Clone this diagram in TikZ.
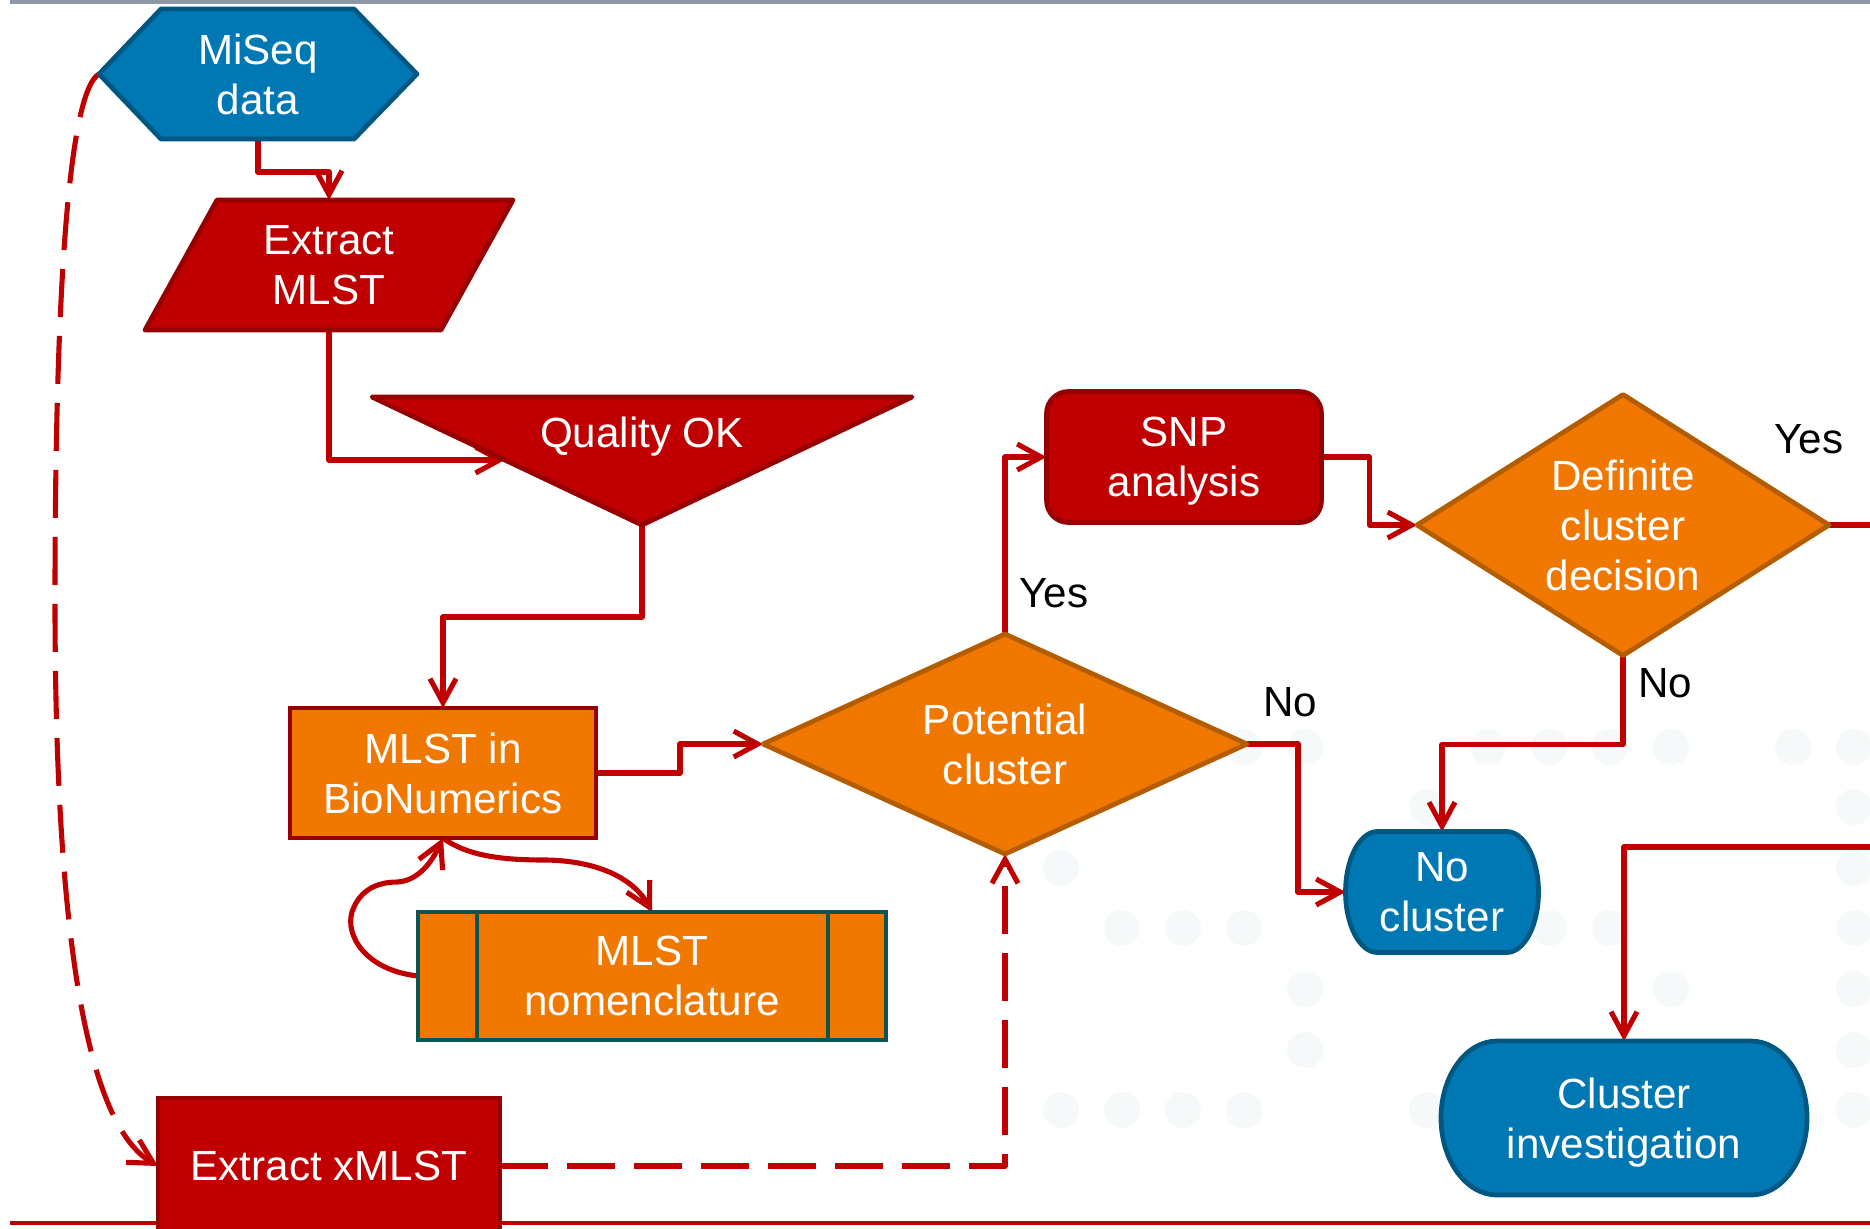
\documentclass[tikz,border=0pt]{standalone}
\usepackage{fontspec}
\setmainfont{Liberation Sans}
\usetikzlibrary{arrows.meta,calc}
\definecolor{cred}{HTML}{C00000}
\definecolor{cdred}{HTML}{960000}
\definecolor{corange}{HTML}{F07800}
\definecolor{cbrown}{HTML}{B35C00}
\definecolor{cblue}{HTML}{0078B4}
\definecolor{cdblue}{HTML}{005882}
\definecolor{cteal}{HTML}{0B5450}
\definecolor{cgray}{HTML}{8E98A4}
\definecolor{cdot}{HTML}{F5F9FA}
\pgfdeclarelayer{bg}
\pgfdeclarelayer{conn}
\pgfdeclarelayer{shp}
\pgfsetlayers{bg,conn,shp,main}
\begin{document}
\begin{tikzpicture}[x=0.1mm, y=-0.1mm,
  every node/.style={font=\fontsize{12}{14.23}\selectfont, align=center, inner sep=0pt, outer sep=0pt, text depth=0pt},
  ghost/.style={text=white},
  lbl/.style={text=black},
  redbox/.style={fill=cred, draw=cdred, line width=1.35pt, text=white},
  orangebox/.style={fill=corange, draw=cdred, line width=1.35pt, text=white},
  redshape/.style={fill=cred, draw=cdred, line width=1.35pt, line join=round},
  orshape/.style={fill=corange, draw=cbrown, line width=1.35pt, line join=round},
  blshape/.style={fill=cblue, draw=cdblue, line width=1.35pt, line join=round},
  conn/.style={draw=cred, line width=1.45pt, line join=round},
  arr/.style={-{Straight Barb[length=2.4mm,width=2.6mm]}},
  dsh/.style={dash pattern=on 4.8mm off 1.9mm}
]
\useasboundingbox (0,0) rectangle (1870,1228);

% ---- nodes
\node[ghost, minimum width=31.8mm, minimum height=13mm] (miseq) at (258,74) {MiSeq\\data};
\node[ghost, minimum width=36.8mm, minimum height=13mm] (extract) at (329,265) {Extract\\MLST};
\node[minimum width=54mm, minimum height=12.8mm] (qok) at (642,461) {};
\node[ghost, anchor=base] (qoktxt) at (642,447) {Quality OK};
\node[orangebox, minimum width=30.6mm, minimum height=13mm] (bio) at (443,773) {MLST in\\BioNumerics};
\node[ghost, minimum width=48.4mm, minimum height=22mm] (pot) at (1005,744) {Potential\\cluster};
\node[redbox, rounded corners=2.2mm, minimum width=27.5mm, minimum height=13.1mm] (snp) at (1184,457) {SNP\\analysis};
\node[ghost, minimum width=41.2mm, minimum height=26.1mm] (def) at (1623,525) {Definite\\cluster\\decision};
\node[ghost, minimum width=19.3mm, minimum height=12.1mm] (nocl) at (1442,892) {No\\cluster};
\node[ghost, minimum width=36.6mm, minimum height=15.4mm] (ci) at (1624,1118) {Cluster\\investigation};
\node[fill=corange, draw=cteal, line width=1.35pt, text=white, minimum width=46.8mm, minimum height=12.8mm] (nom) at (652,976) {MLST\\nomenclature};
\node[redbox, minimum width=34.2mm, minimum height=13.6mm] (xm) at (329,1166) {Extract xMLST};

\node[lbl] (y1) at (1054,593) {Yes};
\node[lbl] (n1) at (1290,702) {No};
\node[lbl] (y2) at (1809,439) {Yes};
\node[lbl] (n2) at (1665,683) {No};

\draw[cteal, line width=1.35pt] ([xshift=5.9mm]nom.north west) -- ([xshift=5.9mm]nom.south west);
\draw[cteal, line width=1.35pt] ([xshift=-5.8mm]nom.north east) -- ([xshift=-5.8mm]nom.south east);

\coordinate (qin) at ($(qok.north west)!0.492!(qok.south)$);
\coordinate (rA) at (1872,525);
\coordinate (rB) at (1872,847);

% ---- background
\begin{pgfonlayer}{bg}
\fill[cgray] (10,0) rectangle (1870,3.5);
\fill[cred] (10,1221) rectangle (1870,1225);
\foreach \k/\yy in {3/747,4/747,7/747,8/747,9/747,10/747,12/747,13/747,
  6/807,13/807, 0/868,13/868, 1/928,2/928,3/928,8/928,9/928,13/928,
  4/989,10/989,13/989, 4/1050,13/1050, 0/1110,1/1110,2/1110,3/1110,6/1110,13/1110}
  \fill[cdot] ({1061+61*\k},\yy) circle[radius=1.8mm];
\end{pgfonlayer}

% ---- shapes
\begin{pgfonlayer}{shp}
\filldraw[blshape] (miseq.west) -- ([xshift=6.2mm]miseq.north west) -- ([xshift=-6.3mm]miseq.north east) -- (miseq.east) -- ([xshift=-6.3mm]miseq.south east) -- ([xshift=6.2mm]miseq.south west) -- cycle;
\filldraw[redshape] ([xshift=7.2mm]extract.north west) -- (extract.north east) -- ([xshift=-7.2mm]extract.south east) -- (extract.south west) -- cycle;
\filldraw[redshape] (qok.north west) -- (qok.north east) -- (qok.south) -- cycle;
\filldraw[orshape] (pot.west) -- (pot.north) -- (pot.east) -- (pot.south) -- cycle;
\filldraw[orshape] (def.west) -- (def.north) -- (def.east) -- (def.south) -- cycle;
\filldraw[blshape] ([xshift=3.2mm]nocl.north west) -- ([xshift=-3.2mm]nocl.north east) arc[start angle=90,end angle=-90,x radius=3.2mm,y radius=6.05mm] -- ([xshift=3.2mm]nocl.south west) arc[start angle=270,end angle=90,x radius=3.2mm,y radius=6.05mm] -- cycle;
\filldraw[blshape] ([xshift=5.6mm]ci.north west) -- ([xshift=-5.6mm]ci.north east) arc[start angle=90,end angle=-90,x radius=5.6mm,y radius=7.7mm] -- ([xshift=5.6mm]ci.south west) arc[start angle=270,end angle=90,x radius=5.6mm,y radius=7.7mm] -- cycle;
\end{pgfonlayer}

% ---- connectors
\begin{pgfonlayer}{conn}
\draw[conn,arr] (miseq.south) -- ++(0,33) -| (extract.north);
\draw[conn,arr] (extract.south) |- (qin);
\draw[conn,arr] (qok.south) -- ++(0,92) -| (bio.north);
\draw[conn,arr] (bio.east) -- ++(84,0) |- (pot.west);
\draw[conn,arr] (pot.north) |- (snp.west);
\draw[conn,arr] (snp.east) -- ++(48,0) |- (def.west);
\draw[conn] (def.east) -- (rA);
\draw[conn,arr] (def.south) -- ++(0,89) -| (nocl.north);
\draw[conn,arr] (pot.east) -- ++(51,0) |- (nocl.west);
\draw[conn,arr] (rB) -| (ci.north);
\draw[conn,arr] (nom.west) .. controls (365,970) and (345,935) .. (352,912) .. controls (360,888) and (380,882) .. (397,882) .. controls (418,881) and (432,862) .. (bio.south);
\draw[conn,arr] (bio.south) .. controls (470,858) and (510,860) .. (547,860) .. controls (600,861) and (635,880) .. (nom.north);
\draw[conn,arr,dsh] (miseq.west) .. controls (68,92) and (55,300) .. (55,600) .. controls (55,900) and (80,1120) .. (xm.west);
\draw[conn,arr,dsh] (xm.east) -| (pot.south);
\end{pgfonlayer}
\end{tikzpicture}
\end{document}
